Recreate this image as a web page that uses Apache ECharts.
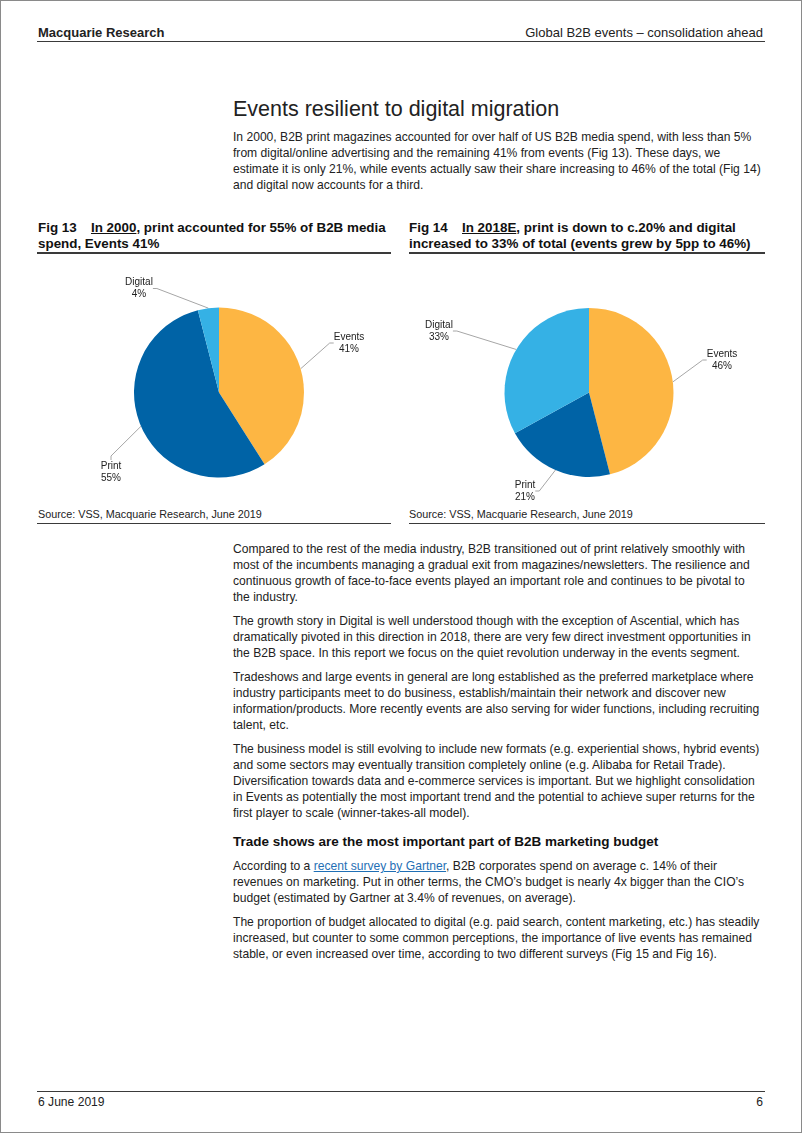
<!DOCTYPE html>
<html>
<head>
<meta charset="utf-8">
<script src="https://cdn.jsdelivr.net/npm/echarts@6/dist/echarts.min.js"></script>
<style>
  html, body { margin: 0; padding: 0; background: #fff; }
  body { width: 802px; height: 1133px; position: relative; overflow: hidden;
         font-family: "Liberation Sans", Arial, sans-serif; color: #222; }
  .frame { position: absolute; left: 0; top: 0; width: 800px; height: 1131px; border: 1px solid #8a8a8a; }
  .abs { position: absolute; white-space: nowrap; }
  .rule { position: absolute; background: #3a3a3a; height: 1.5px; }
  .hdr { font-size: 13px; line-height: 16px; }
  .title { font-size: 21.5px; line-height: 26px; color: #222; }
  .txt { font-size: 12.1px; line-height: 16px; }
  .txt p { margin: 0 0 8px 0; }
  .figt { font-size: 13.4px; line-height: 16px; font-weight: bold; color: #111; }
  .figt .num { display: inline-block; width: 53px; }
  .src { font-size: 10.8px; line-height: 14px; color: #222; }
  .h2 { font-size: 13.5px; line-height: 16px; font-weight: bold; color: #111; }
  a { color: #1f6fb5; text-decoration: underline; }
  .chart { position: absolute; }
</style>
</head>
<body>
<div class="frame"></div>

<div class="abs hdr" style="left:38px; top:24.5px; font-weight:bold;">Macquarie Research</div>
<div class="abs hdr" style="right:39px; top:24.5px;">Global B2B events – consolidation ahead</div>
<div class="rule" style="left:37px; width:728px; top:40.5px;"></div>

<div class="abs title" style="left:233px; top:96px;">Events resilient to digital migration</div>
<div class="abs txt" style="left:233px; top:128.7px;">
In 2000, B2B print magazines accounted for over half of US B2B media spend, with less than 5%<br>
from digital/online advertising and the remaining 41% from events (Fig 13). These days, we<br>
estimate it is only 21%, while events actually saw their share increasing to 46% of the total (Fig 14)<br>
and digital now accounts for a third.
</div>

<div class="abs figt" style="left:38px; top:220px;"><span class="num">Fig 13</span><u>In 2000</u>, print accounted for 55% of B2B media<br>spend, Events 41%</div>
<div class="rule" style="left:37px; width:354px; top:252px;"></div>
<div class="abs figt" style="left:409px; top:220px;"><span class="num">Fig 14</span><u>In 2018E</u>, print is down to c.20% and digital<br>increased to 33% of total (events grew by 5pp to 46%)</div>
<div class="rule" style="left:409px; width:356px; top:252px;"></div>

<div id="chart13" class="chart" style="left:37px; top:256px; width:354px; height:248px;"></div>
<div id="chart14" class="chart" style="left:409px; top:256px; width:356px; height:248px;"></div>

<div class="abs src" style="left:38px; top:507px;">Source: VSS, Macquarie Research, June 2019</div>
<div class="rule" style="left:37px; width:354px; top:522.5px;"></div>
<div class="abs src" style="left:409px; top:507px;">Source: VSS, Macquarie Research, June 2019</div>
<div class="rule" style="left:409px; width:356px; top:522.5px;"></div>

<div class="abs txt" style="left:233px; top:541.4px;">
<p>Compared to the rest of the media industry, B2B transitioned out of print relatively smoothly with<br>
most of the incumbents managing a gradual exit from magazines/newsletters. The resilience and<br>
continuous growth of face-to-face events played an important role and continues to be pivotal to<br>
the industry.</p>
<p>The growth story in Digital is well understood though with the exception of Ascential, which has<br>
dramatically pivoted in this direction in 2018, there are very few direct investment opportunities in<br>
the B2B space. In this report we focus on the quiet revolution underway in the events segment.</p>
<p>Tradeshows and large events in general are long established as the preferred marketplace where<br>
industry participants meet to do business, establish/maintain their network and discover new<br>
information/products. More recently events are also serving for wider functions, including recruiting<br>
talent, etc.</p>
<p>The business model is still evolving to include new formats (e.g. experiential shows, hybrid events)<br>
and some sectors may eventually transition completely online (e.g. Alibaba for Retail Trade).<br>
Diversification towards data and e-commerce services is important. But we highlight consolidation<br>
in Events as potentially the most important trend and the potential to achieve super returns for the<br>
first player to scale (winner-takes-all model).</p>
</div>

<div class="abs h2" style="left:233px; top:834px;">Trade shows are the most important part of B2B marketing budget</div>

<div class="abs txt" style="left:233px; top:858.1px;">
<p>According to a <a>recent survey by Gartner</a>, B2B corporates spend on average c. 14% of their<br>
revenues on marketing. Put in other terms, the CMO’s budget is nearly 4x bigger than the CIO’s<br>
budget (estimated by Gartner at 3.4% of revenues, on average).</p>
<p>The proportion of budget allocated to digital (e.g. paid search, content marketing, etc.) has steadily<br>
increased, but counter to some common perceptions, the importance of live events has remained<br>
stable, or even increased over time, according to two different surveys (Fig 15 and Fig 16).</p>
</div>

<div class="rule" style="left:37px; width:728px; top:1090.5px;"></div>
<div class="abs txt" style="left:38px; top:1093.5px;">6 June 2019</div>
<div class="abs txt" style="right:39px; top:1093.5px;">6</div>

<script>
// ---- data ----
const fig13Categories = ['Events', 'Print', 'Digital'];
const fig13Values = [41, 55, 4];
const fig14Categories = ['Events', 'Print', 'Digital'];
const fig14Values = [46, 21, 33];
const sliceColors = ['#FDB643', '#0063A6', '#35B1E5'];

// label placement (offset of label centre from pie centre, px)
const fig13LabelOffsets = [[130, -49.5], [-108, 79.5], [-80, -104]];
const fig14LabelOffsets = [[133, -32.5], [-64, 98.5], [-150, -61.5]];

function makePie(domId, categories, values, center, radius, offsets) {
  const chart = echarts.init(document.getElementById(domId), null, { renderer: 'canvas' });
  const data = categories.map((c, i) => ({ name: c, value: values[i], itemStyle: { color: sliceColors[i] } }));
  chart.setOption({
    animation: false,
    series: [{
      type: 'pie',
      center: center,
      radius: radius,
      startAngle: 90,
      clockwise: true,
      avoidLabelOverlap: false,
      silent: true,
      itemStyle: { borderWidth: 0 },
      label: {
        show: true,
        position: 'outside',
        formatter: '{b}\n{c}%',
        fontFamily: 'Liberation Sans, Arial, sans-serif',
        fontSize: 10,
        lineHeight: 12,
        color: '#222',
        align: 'center'
      },
      labelLine: {
        show: true,
        length: 10,
        length2: 4,
        smooth: false,
        lineStyle: { color: '#a6a6a6', width: 1 }
      },
      labelLayout: function (params) {
        const o = offsets[params.dataIndex];
        return { x: center[0] + o[0], y: center[1] + o[1], align: 'center', verticalAlign: 'middle' };
      },
      data: data
    }]
  });
  return chart;
}

makePie('chart13', fig13Categories, fig13Values, [182, 136.5], 85, fig13LabelOffsets);
makePie('chart14', fig14Categories, fig14Values, [180, 136.5], 84.5, fig14LabelOffsets);
</script>
</body>
</html>
